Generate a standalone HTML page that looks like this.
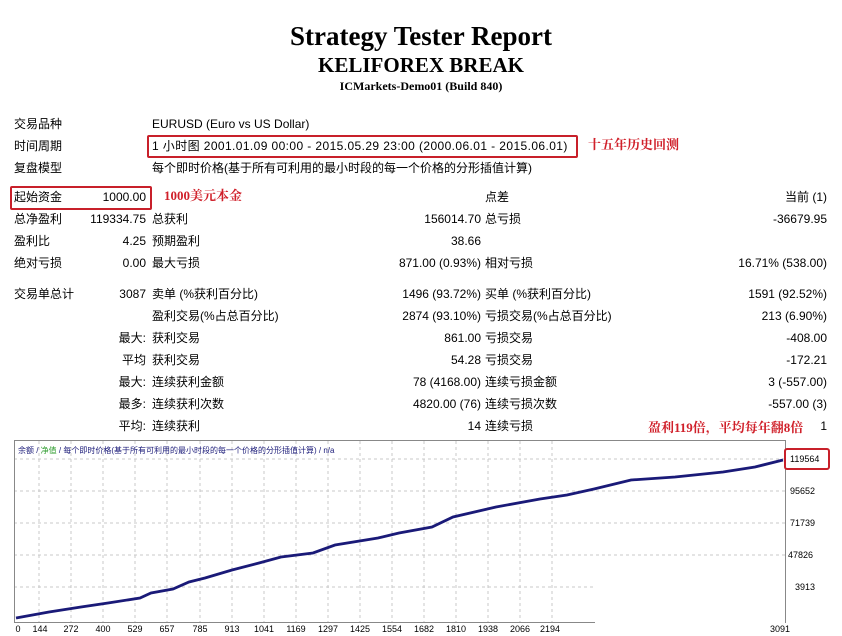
<!DOCTYPE html>
<html><head><meta charset="utf-8"><style>
body{margin:0;width:842px;height:636px;background:#fff;position:relative;overflow:hidden;font-family:"Liberation Sans","Noto Sans CJK SC",sans-serif;font-size:12px;color:#000}
.t{position:absolute;white-space:nowrap;line-height:14px}
.r{text-align:right}
.h{position:absolute;width:842px;text-align:center;font-family:"Liberation Serif","Noto Serif CJK SC",serif;font-weight:bold}
.red{color:#d0202a;font-family:"Liberation Serif","Noto Serif CJK SC",serif;font-weight:bold;font-size:13px}
.box{position:absolute;border:2px solid #c8202a;border-radius:2px}
</style></head><body>
<div class="h" style="top:21px;font-size:27px">Strategy Tester Report</div>
<div class="h" style="top:53px;font-size:21px">KELIFOREX BREAK</div>
<div class="h" style="top:79px;font-size:12px">ICMarkets-Demo01 (Build 840)</div>

<div class="t" style="left:14px;top:117px">交易品种</div><div class="t" style="left:152px;top:117px">EURUSD (Euro vs US Dollar)</div>
<div class="t" style="left:14px;top:139px">时间周期</div><div class="t" style="left:152px;top:139px;letter-spacing:0.4px">1 小时图 2001.01.09 00:00 - 2015.05.29 23:00 (2000.06.01 - 2015.06.01)</div>
<div class="box" style="left:147px;top:135px;width:427px;height:19px"></div>
<div class="t red" style="left:588px;top:138px">十五年历史回测</div>
<div class="t" style="left:14px;top:161px">复盘模型</div><div class="t" style="left:152px;top:161px">每个即时价格(基于所有可利用的最小时段的每一个价格的分形插值计算)</div>

<div class="box" style="left:10px;top:186px;width:138px;height:20px"></div>
<div class="t" style="left:14px;top:190px">起始资金</div><div class="t r" style="left:60px;top:190px;width:86px">1000.00</div>
<div class="t red" style="left:164px;top:189px">1000美元本金</div>
<div class="t" style="left:485px;top:190px">点差</div><div class="t r" style="left:600px;top:190px;width:227px">当前 (1)</div>

<div class="t" style="left:14px;top:212px">总净盈利</div><div class="t r" style="left:60px;top:212px;width:86px">119334.75</div><div class="t" style="left:152px;top:212px">总获利</div><div class="t r" style="left:300px;top:212px;width:181px">156014.70</div><div class="t" style="left:485px;top:212px">总亏损</div><div class="t r" style="left:600px;top:212px;width:227px">-36679.95</div>
<div class="t" style="left:14px;top:234px">盈利比</div><div class="t r" style="left:60px;top:234px;width:86px">4.25</div><div class="t" style="left:152px;top:234px">预期盈利</div><div class="t r" style="left:300px;top:234px;width:181px">38.66</div>
<div class="t" style="left:14px;top:256px">绝对亏损</div><div class="t r" style="left:60px;top:256px;width:86px">0.00</div><div class="t" style="left:152px;top:256px">最大亏损</div><div class="t r" style="left:300px;top:256px;width:181px">871.00 (0.93%)</div><div class="t" style="left:485px;top:256px">相对亏损</div><div class="t r" style="left:600px;top:256px;width:227px">16.71% (538.00)</div>

<div class="t" style="left:14px;top:287px">交易单总计</div><div class="t r" style="left:60px;top:287px;width:86px">3087</div><div class="t" style="left:152px;top:287px">卖单 (%获利百分比)</div><div class="t r" style="left:300px;top:287px;width:181px">1496 (93.72%)</div><div class="t" style="left:485px;top:287px">买单 (%获利百分比)</div><div class="t r" style="left:600px;top:287px;width:227px">1591 (92.52%)</div>
<div class="t" style="left:152px;top:309px">盈利交易(%占总百分比)</div><div class="t r" style="left:300px;top:309px;width:181px">2874 (93.10%)</div><div class="t" style="left:485px;top:309px">亏损交易(%占总百分比)</div><div class="t r" style="left:600px;top:309px;width:227px">213 (6.90%)</div>
<div class="t r" style="left:60px;top:331px;width:86px">最大:</div><div class="t" style="left:152px;top:331px">获利交易</div><div class="t r" style="left:300px;top:331px;width:181px">861.00</div><div class="t" style="left:485px;top:331px">亏损交易</div><div class="t r" style="left:600px;top:331px;width:227px">-408.00</div>
<div class="t r" style="left:60px;top:353px;width:86px">平均</div><div class="t" style="left:152px;top:353px">获利交易</div><div class="t r" style="left:300px;top:353px;width:181px">54.28</div><div class="t" style="left:485px;top:353px">亏损交易</div><div class="t r" style="left:600px;top:353px;width:227px">-172.21</div>
<div class="t r" style="left:60px;top:375px;width:86px">最大:</div><div class="t" style="left:152px;top:375px">连续获利金额</div><div class="t r" style="left:300px;top:375px;width:181px">78 (4168.00)</div><div class="t" style="left:485px;top:375px">连续亏损金额</div><div class="t r" style="left:600px;top:375px;width:227px">3 (-557.00)</div>
<div class="t r" style="left:60px;top:397px;width:86px">最多:</div><div class="t" style="left:152px;top:397px">连续获利次数</div><div class="t r" style="left:300px;top:397px;width:181px">4820.00 (76)</div><div class="t" style="left:485px;top:397px">连续亏损次数</div><div class="t r" style="left:600px;top:397px;width:227px">-557.00 (3)</div>
<div class="t r" style="left:60px;top:419px;width:86px">平均:</div><div class="t" style="left:152px;top:419px">连续获利</div><div class="t r" style="left:300px;top:419px;width:181px">14</div><div class="t" style="left:485px;top:419px">连续亏损</div><div class="t r" style="left:780px;top:419px;width:47px">1</div>
<div class="t red" style="left:648px;top:421px">盈利119倍，平均每年翻8倍</div>

<svg style="position:absolute;left:0;top:0" width="842" height="636">
<g stroke="#c8c8c8" stroke-dasharray="3,3" stroke-width="1">
<line x1="14" x2="785" y1="459" y2="459"/><line x1="14" x2="785" y1="491" y2="491"/><line x1="14" x2="785" y1="523" y2="523"/><line x1="14" x2="785" y1="555" y2="555"/><line x1="14" x2="785" y1="587" y2="587"/>
<line x1="39" x2="39" y1="441" y2="622"/><line x1="71" x2="71" y1="441" y2="622"/><line x1="103" x2="103" y1="441" y2="622"/><line x1="135" x2="135" y1="441" y2="622"/><line x1="167" x2="167" y1="441" y2="622"/><line x1="200" x2="200" y1="441" y2="622"/><line x1="232" x2="232" y1="441" y2="622"/><line x1="264" x2="264" y1="441" y2="622"/><line x1="296" x2="296" y1="441" y2="622"/><line x1="328" x2="328" y1="441" y2="622"/><line x1="360" x2="360" y1="441" y2="622"/><line x1="392" x2="392" y1="441" y2="622"/><line x1="424" x2="424" y1="441" y2="622"/><line x1="456" x2="456" y1="441" y2="622"/><line x1="488" x2="488" y1="441" y2="622"/><line x1="520" x2="520" y1="441" y2="622"/><line x1="552" x2="552" y1="441" y2="622"/>
</g>
<rect x="14.5" y="440.5" width="771" height="182" fill="none" stroke="#888"/>
<rect x="595" y="560" width="190" height="76" fill="#fff"/>
<polyline fill="none" stroke="#1a1a78" stroke-width="2.8" points="16,618 49,612 81,607 108,603 140,598 151,593 173,589 189,582 205,578 232,570 259,563 281,557 313,553 335,545 378,538 399,533 432,527 453,517 496,507 540,499 567,495 594,489 631,480 675,477 723,472 755,467 783,460"/>
<rect x="785" y="449" width="44" height="20" fill="#fff" stroke="#c8202a" stroke-width="2" rx="2"/>
<g font-family="Liberation Sans,sans-serif" font-size="9" fill="#000">
<text x="790" y="462">119564</text><text x="790" y="494">95652</text><text x="790" y="526">71739</text><text x="788" y="558">47826</text><text x="795" y="590">3913</text>
<g text-anchor="middle"><text x="18" y="632">0</text><text x="40" y="632">144</text><text x="71" y="632">272</text><text x="103" y="632">400</text><text x="135" y="632">529</text><text x="167" y="632">657</text><text x="200" y="632">785</text><text x="232" y="632">913</text><text x="264" y="632">1041</text><text x="296" y="632">1169</text><text x="328" y="632">1297</text><text x="360" y="632">1425</text><text x="392" y="632">1554</text><text x="424" y="632">1682</text><text x="456" y="632">1810</text><text x="488" y="632">1938</text><text x="520" y="632">2066</text><text x="550" y="632">2194</text><text x="780" y="632">3091</text></g>
<text x="18" y="453" font-size="8" fill="#1a1a78">余额 / <tspan fill="#2a9a2a">净值</tspan> / 每个即时价格(基于所有可利用的最小时段的每一个价格的分形插值计算) / n/a</text>
</g>
</svg>
</body></html>
